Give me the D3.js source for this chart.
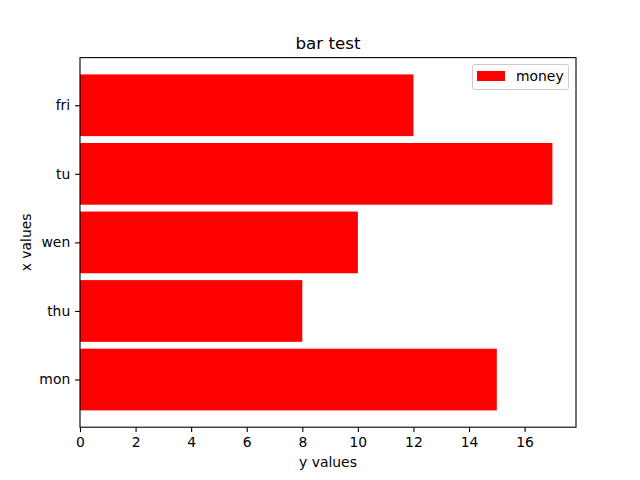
<!DOCTYPE html>
<html><head><meta charset="utf-8">
<script src="https://cdn.jsdelivr.net/npm/d3@7"></script>
<style>body{margin:0;background:#fff}svg{display:block}text{font-family:"DejaVu Sans",sans-serif;fill:#000}</style>
</head><body>
<script>
const categories = ["mon", "thu", "wen", "tu", "fri"];
const values = [15, 8, 10, 17, 12];
const xTicks = [0, 2, 4, 6, 8, 10, 12, 14, 16];
const title = "bar test";
const xLabel = "y values";
const yLabel = "x values";
const seriesName = "money";

const W = 640, H = 480;
const m = {left: 80, right: 576, top: 57.6, bottom: 427.2};
const svg = d3.select("body").append("svg").attr("width", W).attr("height", H);
const fs = 13.9, ft = 16.7;

const xMax = d3.max(values) * 1.05;
const x = d3.scaleLinear().domain([0, xMax]).range([m.left, m.right]);
const barH = 0.9;
const yLo = -barH/2 - 0.05*(categories.length - 1 + barH);
const yHi = categories.length - 1 + barH/2 + 0.05*(categories.length - 1 + barH);
const y = d3.scaleLinear().domain([yLo, yHi]).range([m.bottom, m.top]);

svg.append("g").selectAll("rect").data(values).join("rect")
  .attr("x", x(0))
  .attr("y", (d, i) => y(i + barH/2))
  .attr("width", d => x(d) - x(0))
  .attr("height", y(0) - y(barH))
  .attr("fill", "#ff0000");

const xAxis = d3.axisBottom(x).tickValues(xTicks).tickSize(4.9).tickPadding(4.9).tickFormat(d3.format("d"));
const gx = svg.append("g").attr("transform", `translate(0,${m.bottom})`).call(xAxis);
gx.select(".domain").remove();
gx.selectAll("line").attr("stroke", "#000").attr("stroke-width", 1.1);
gx.selectAll("text").attr("font-size", fs).style("font-family", "DejaVu Sans");

const yAxis = d3.axisLeft(y).tickValues(d3.range(categories.length)).tickFormat(i => categories[i]).tickSize(4.9).tickPadding(4.9);
const gy = svg.append("g").attr("transform", `translate(${m.left},0)`).call(yAxis);
gy.select(".domain").remove();
gy.selectAll("line").attr("stroke", "#000").attr("stroke-width", 1.1);
gy.selectAll("text").attr("font-size", fs).style("font-family", "DejaVu Sans");

svg.append("rect").attr("x", m.left).attr("y", m.top)
  .attr("width", m.right - m.left).attr("height", m.bottom - m.top)
  .attr("fill", "none").attr("stroke", "#000").attr("stroke-width", 1.1);

svg.append("text").attr("x", (m.left + m.right)/2).attr("y", 49)
  .attr("text-anchor", "middle").attr("font-size", ft).text(title);
svg.append("text").attr("x", (m.left + m.right)/2).attr("y", 467)
  .attr("text-anchor", "middle").attr("font-size", fs).text(xLabel);
svg.append("text").attr("transform", `translate(31,${(m.top + m.bottom)/2}) rotate(-90)`)
  .attr("text-anchor", "middle").attr("font-size", fs).text(yLabel);

const lg = svg.append("g");
lg.append("rect").attr("x", 472.5).attr("y", 64.5).attr("width", 96).attr("height", 25)
  .attr("rx", 2).attr("fill", "#fff").attr("fill-opacity", 0.8).attr("stroke", "#ccc").attr("stroke-width", 1);
lg.append("rect").attr("x", 477).attr("y", 71).attr("width", 28).attr("height", 10).attr("fill", "#ff0000");
lg.append("text").attr("x", 516).attr("y", 81).attr("font-size", fs).text(seriesName);
</script>
</body></html>
